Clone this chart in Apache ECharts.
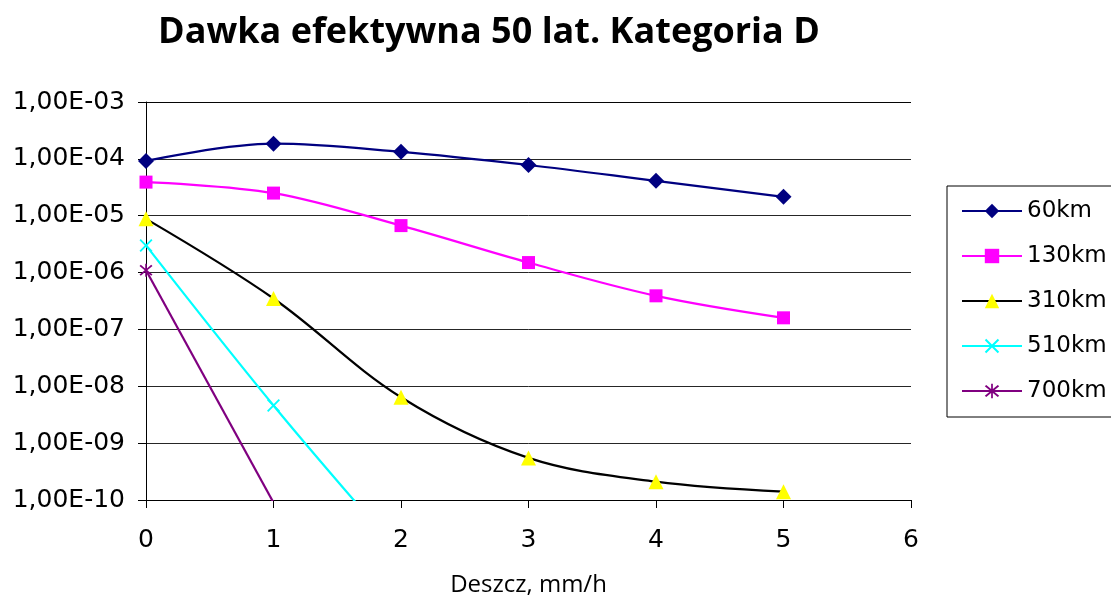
<!DOCTYPE html>
<html>
<head>
<meta charset="utf-8">
<script src="https://cdn.jsdelivr.net/npm/echarts@6/dist/echarts.min.js"></script>
<style>
  html, body { margin: 0; padding: 0; background: #fff; }
  #chart { width: 1111px; height: 597px; }
</style>
</head>
<body>
<div id="chart"></div>
<script>
// Deszcz, mm/h
const rain = [0, 1, 2, 3, 4, 5];
const seriesNames = ["60km", "130km", "310km", "510km", "700km"];
// wartości (null = poza zakresem osi, nieczytelne)
const d60 = [9.2e-5, 1.85e-4, 1.33e-4, 7.8e-5, 4.1e-5, 2.15e-5];
const d130 = [3.9e-5, 2.5e-5, 6.7e-6, 1.5e-6, 3.9e-7, 1.6e-7];
const d310 = [8.8e-6, 3.5e-7, 6.4e-9, 5.5e-10, 2.1e-10, 1.4e-10];
const d510 = [3.0e-6, 4.6e-9, 1.1e-11, null, null, null];
const d700 = [1.1e-6, 9e-11, null, null, null, null];

const crossPath = "path://M1,0 L5,4 L9,0 L10,1 L6,5 L10,9 L9,10 L5,6 L1,10 L0,9 L4,5 L0,1 Z";
const starPath = "path://M1,0 L5,4 L9,0 L10,1 L6,5 L10,9 L9,10 L5,6 L1,10 L0,9 L4,5 L0,1 Z M4.4,-1 L5.6,-1 L5.6,11 L4.4,11 Z";

const chart = echarts.init(document.getElementById("chart"));

function pairs(arr) {
  return rain.map((x, i) => [x, arr[i]]);
}

function mkSeries(name, data, lineColor, symbol, symColor, size) {
  return {
    name: name,
    type: "line",
    data: pairs(data),
    smooth: 0.35,
    symbol: symbol,
    symbolSize: size,
    showSymbol: true,
    clip: true,
    lineStyle: { color: lineColor, width: 2.2 },
    itemStyle: { color: symColor, borderWidth: 0 },
    z: 3,
  };
}

const option = {
  animation: false,
  backgroundColor: "#ffffff",
  title: {
    text: "Dawka efektywna 50 lat. Kategoria D",
    left: 153,
    top: 10,
    textStyle: {
      fontFamily: "Open Sans",
      fontWeight: "bold",
      fontSize: 36,
      color: "#000",
    },
  },
  grid: {
    left: 146,
    right: 200,
    top: 102,
    bottom: 97,
    outerBoundsMode: "none",
    containLabel: false,
  },
  legend: {
    orient: "vertical",
    left: 947,
    top: 186,
    width: 180,
    padding: [13, 80, 14, 14],
    itemWidth: 60,
    itemHeight: 18,
    itemGap: 21,
    borderColor: "#000",
    borderWidth: 1,
    borderRadius: 0,
    textStyle: {
      fontFamily: "DejaVu Sans",
      fontSize: 23,
      lineHeight: 24,
      color: "#000",
    },
    data: seriesNames,
  },
  xAxis: {
    type: "value",
    min: 0,
    max: 6,
    interval: 1,
    name: "Deszcz, mm/h",
    nameLocation: "middle",
    nameGap: 73,
    nameTextStyle: {
      fontFamily: "Open Sans",
      fontSize: 24,
      color: "#000",
    },
    axisLine: { onZero: false, lineStyle: { color: "#000", width: 1 } },
    axisTick: { show: true, length: 8, lineStyle: { color: "#000" } },
    axisLabel: {
      fontFamily: "DejaVu Sans",
      fontSize: 25,
      color: "#000",
      margin: 28,
    },
    splitLine: { show: false },
  },
  yAxis: {
    type: "log",
    logBase: 10,
    min: 1e-10,
    max: 1e-3,
    axisLine: { show: true, lineStyle: { color: "#000", width: 1 } },
    axisTick: { show: true, length: 8, lineStyle: { color: "#000" } },
    axisLabel: {
      fontFamily: "DejaVu Sans",
      fontSize: 25,
      color: "#000",
      margin: 21,
      formatter: function (v) {
        const e = Math.round(Math.log10(v));
        const a = Math.abs(e);
        return "1,00E" + (e < 0 ? "-" : "+") + (a < 10 ? "0" + a : a);
      },
    },
    splitLine: { show: true, lineStyle: { color: "#000", width: 1, opacity: 0.85 } },
  },
  series: [
    mkSeries("60km", d60, "#000080", "diamond", "#000080", 16),
    mkSeries("130km", d130, "#ff00ff", "rect", "#ff00ff", 13),
    mkSeries("310km", d310, "#000000", "triangle", "#ffff00", 15),
    mkSeries("510km", d510, "#00ffff", crossPath, "#00ffff", 13),
    mkSeries("700km", d700, "#800080", starPath, "#800080", 13),
  ],
};

chart.setOption(option);
</script>
</body>
</html>
